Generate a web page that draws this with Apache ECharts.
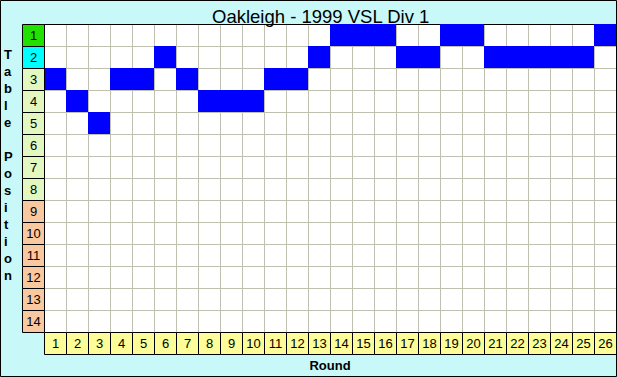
<!DOCTYPE html>
<html>
<head>
<meta charset="utf-8">
<script src="https://cdn.jsdelivr.net/npm/echarts@6/dist/echarts.min.js"></script>
<style>html,body{margin:0;padding:0;background:#c8f8f8;}#c{width:617px;height:377px;}</style>
</head>
<body>
<div id="c"></div>
<script>
const titleText = 'Oakleigh - 1999 VSL Div 1';
const yAxisTitle = 'Table Position';
const xAxisTitle = 'Round';
const rounds = ['1','2','3','4','5','6','7','8','9','10','11','12','13','14','15','16','17','18','19','20','21','22','23','24','25','26'];
const positionLabels = ['1','2','3','4','5','6','7','8','9','10','11','12','13','14'];
const positions = [3,4,5,3,3,2,3,4,4,4,3,3,2,1,1,1,2,2,1,1,2,2,2,2,2,1];

const FONT = '"Liberation Sans", Arial, sans-serif';

function bandColor(i) {
  if (i === 0) return '#22e000';
  if (i === 1) return '#00ffff';
  if (i < 8) return '#e2f8c0';
  return '#f8c8a0';
}

const chart = echarts.init(document.getElementById('c'), null, {renderer: 'svg'});

const cellData = positions.map((p, r) => [r, p - 1]);
const labelData = positionLabels.map((p, i) => [0, i]);
const roundData = rounds.map((r, i) => [i, 0]);

function cellRect(api) {
  const c = api.coord([api.value(0), api.value(1)]);
  const s = api.size([1, 1]);
  return {x: Math.round(c[0] - s[0] / 2), y: Math.round(c[1] - s[1] / 2), width: Math.round(s[0]), height: Math.round(s[1])};
}

chart.setOption({
  backgroundColor: '#c8f8f8',
  animation: false,
  title: {
    text: titleText, left: 207, top: 2,
    textStyle: {fontFamily: FONT, fontSize: 18.5, fontWeight: 'normal', color: '#000'}
  },
  grid: [
    {left: 44, top: 24, width: 572, height: 308, show: true, backgroundColor: '#ffffff', borderWidth: 0},
    {left: 22, top: 24, width: 22, height: 308},
    {left: 44, top: 332, width: 572, height: 22}
  ],
  xAxis: [
    {gridIndex: 0, type: 'category', data: rounds, position: 'top',
     axisLine: {show: true, lineStyle: {color: '#000', width: 1}}, axisTick: {show: false}, axisLabel: {show: false},
     splitLine: {show: true, interval: 0, lineStyle: {color: '#c0c0b0', width: 1}}},
    {gridIndex: 1, type: 'category', data: [''], show: false},
    {gridIndex: 2, type: 'category', data: rounds, position: 'bottom',
     axisLine: {show: false}, axisTick: {show: false}, axisLabel: {show: false},
     name: xAxisTitle, nameLocation: 'middle', nameGap: 5,
     nameTextStyle: {fontFamily: FONT, fontSize: 13, fontWeight: 'bold', color: '#000'}}
  ],
  yAxis: [
    {gridIndex: 0, type: 'category', data: positionLabels, inverse: true,
     axisLine: {show: false}, axisTick: {show: false}, axisLabel: {show: false},
     splitLine: {show: true, interval: 0, lineStyle: {color: '#c0c0b0', width: 1}}},
    {gridIndex: 1, type: 'category', data: positionLabels, inverse: true, show: false},
    {gridIndex: 2, type: 'category', data: [''], show: false}
  ],
  series: [
    {
      type: 'custom', xAxisIndex: 0, yAxisIndex: 0, data: cellData,
      renderItem: function (params, api) {
        return {type: 'rect', shape: cellRect(api), style: {fill: '#0000ff'}};
      }
    },
    {
      type: 'custom', xAxisIndex: 1, yAxisIndex: 1, data: labelData,
      renderItem: function (params, api) {
        const r = cellRect(api);
        const i = api.value(1);
        return {
          type: 'rect',
          shape: {x: r.x + 0.5, y: r.y + 0.5, width: r.width, height: r.height},
          style: {fill: bandColor(i), stroke: '#000', lineWidth: 1},
          textContent: {style: {text: positionLabels[i], fill: '#000', font: '13px ' + FONT}},
          textConfig: {position: 'inside'}
        };
      }
    },
    {
      type: 'custom', xAxisIndex: 2, yAxisIndex: 2, data: roundData,
      renderItem: function (params, api) {
        const r = cellRect(api);
        const i = api.value(0);
        return {
          type: 'rect',
          shape: {x: r.x + 0.5, y: r.y + 0.5, width: r.width, height: r.height},
          style: {fill: '#fcfc98', stroke: '#000', lineWidth: 1},
          textContent: {style: {text: rounds[i], fill: '#000', font: '13px ' + FONT}},
          textConfig: {position: 'inside'}
        };
      }
    }
  ],
  graphic: [
    {type: 'text', left: 4, top: 46, z: 10,
     style: {text: yAxisTitle.split('').join('\n'), fill: '#000', font: 'bold 13px ' + FONT, lineHeight: 17, align: 'center', width: 14}},
    {type: 'rect', z: 100, silent: true,
     shape: {x: 0.5, y: 0.5, width: 616, height: 376},
     style: {fill: 'none', stroke: '#000', lineWidth: 1}}
  ]
});
</script>
</body>
</html>
